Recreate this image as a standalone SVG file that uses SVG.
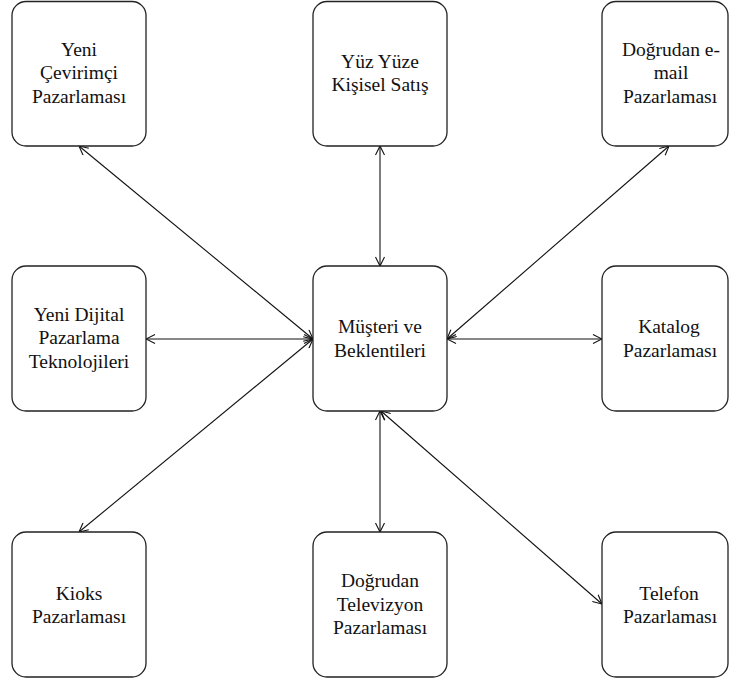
<svg xmlns="http://www.w3.org/2000/svg" width="729" height="682" viewBox="0 0 729 682">
<defs>
<style>
.box{fill:#fff;stroke:#222;stroke-width:1.3}
.lbl{font-family:"Liberation Serif","Times New Roman",serif;font-size:19.5px;fill:#111;text-anchor:middle}
.conn{stroke:#111;stroke-width:1.1;fill:none;marker-start:url(#arr);marker-end:url(#arr)}
</style>
<marker id="arr" viewBox="0 0 10 10" refX="10" refY="5" markerWidth="10" markerHeight="10" markerUnits="userSpaceOnUse" orient="auto-start-reverse">
<path d="M1,0.5 L10,5 L1,9.5" fill="none" stroke="#111" stroke-width="1.1"/>
</marker>
</defs>
<rect width="729" height="682" fill="#fff"/>
<g id="connectors">
<line class="conn" x1="380" y1="146" x2="380" y2="266"/>
<line class="conn" x1="380" y1="411" x2="380" y2="532"/>
<line class="conn" x1="146" y1="339" x2="313" y2="339"/>
<line class="conn" x1="447" y1="339" x2="602" y2="339"/>
<line class="conn" x1="79" y1="146" x2="313" y2="339"/>
<line class="conn" x1="669" y1="146" x2="447" y2="339"/>
<line class="conn" x1="79" y1="532" x2="313" y2="339"/>
<line class="conn" x1="381" y1="411" x2="602" y2="604"/>
</g>
<g id="n-yeni-cevirimci">
<rect class="box" x="12" y="1.5" width="134" height="144.5" rx="14"/>
<text class="lbl" x="79" y="55.5">Yeni</text>
<text class="lbl" x="79" y="79">Çevirimçi</text>
<text class="lbl" x="79" y="102.5">Pazarlaması</text>
</g>
<g id="n-yuz-yuze">
<rect class="box" x="313" y="1.5" width="134" height="144.5" rx="14"/>
<text class="lbl" x="380" y="67.5">Yüz Yüze</text>
<text class="lbl" x="380" y="91">Kişisel Satış</text>
</g>
<g id="n-email">
<rect class="box" x="602" y="1.5" width="126" height="144.5" rx="14"/>
<text class="lbl" x="671" y="55.5">Doğrudan e-</text>
<text class="lbl" x="671" y="79">mail</text>
<text class="lbl" x="670" y="102.5">Pazarlaması</text>
</g>
<g id="n-dijital">
<rect class="box" x="12" y="266" width="134" height="145" rx="14"/>
<text class="lbl" x="79" y="320.5">Yeni Dijital</text>
<text class="lbl" x="79" y="344">Pazarlama</text>
<text class="lbl" x="79" y="367.5">Teknolojileri</text>
</g>
<g id="n-musteri">
<rect class="box" x="313" y="266" width="134" height="145" rx="14"/>
<text class="lbl" x="380" y="333">Müşteri ve</text>
<text class="lbl" x="380" y="357">Beklentileri</text>
</g>
<g id="n-katalog">
<rect class="box" x="602" y="266" width="126" height="145" rx="14"/>
<text class="lbl" x="669" y="333">Katalog</text>
<text class="lbl" x="670" y="357">Pazarlaması</text>
</g>
<g id="n-kioks">
<rect class="box" x="12" y="532" width="134" height="145" rx="14"/>
<text class="lbl" x="79" y="599.5">Kioks</text>
<text class="lbl" x="79" y="623">Pazarlaması</text>
</g>
<g id="n-televizyon">
<rect class="box" x="313" y="532" width="134" height="145" rx="14"/>
<text class="lbl" x="380" y="587">Doğrudan</text>
<text class="lbl" x="380" y="610.5">Televizyon</text>
<text class="lbl" x="380" y="634">Pazarlaması</text>
</g>
<g id="n-telefon">
<rect class="box" x="602" y="532" width="126" height="145" rx="14"/>
<text class="lbl" x="669" y="599.5">Telefon</text>
<text class="lbl" x="670" y="623">Pazarlaması</text>
</g>
</svg>
